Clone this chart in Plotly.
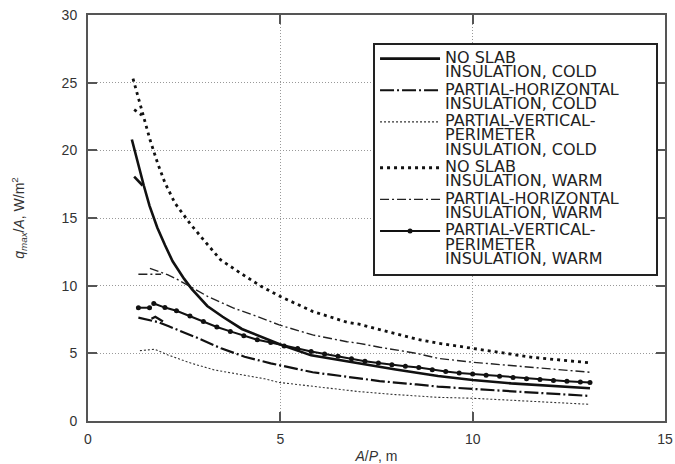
import plotly.graph_objects as go

# ---- data (x = A/P in m, y = q_max/A in W/m2) ----
# None separates a short start-up branch from the main curve
noslab_cold_x = [1.14, 1.3, 1.45, 1.6, 1.8, 2.0, 2.2, 2.5, 2.7, 3.1, 3.5, 4.0, 4.5, 5.0, 5.8, 7.0, 8.0, 9.1, 10.0, 11.0, 12.0, 13.05,
                 None, 1.2, 1.42]
noslab_cold_y = [20.8, 19.0, 17.4, 15.9, 14.3, 13.0, 11.8, 10.5, 9.75, 8.5, 7.7, 6.8, 6.2, 5.65, 4.85, 4.26, 3.8, 3.33, 3.03, 2.78, 2.6, 2.42,
                 None, 18.05, 17.4]

phoriz_cold_x = [1.31, 1.6, 1.83, 2.1, 2.35, 2.87, 3.46, 4.07, 4.75, 5.0, 5.84, 7.05, 7.58, 8.54, 9.1, 10.0, 11.56, 13.05,
                 None, 1.65, 1.75, 1.95]
phoriz_cold_y = [7.64, 7.45, 7.3, 7.0, 6.73, 6.11, 5.37, 4.75, 4.26, 4.1, 3.6, 3.15, 2.95, 2.7, 2.54, 2.37, 2.1, 1.85,
                 None, 7.55, 7.7, 7.35]

pvert_cold_x = [1.35, 1.55, 1.74, 2.08, 2.69, 3.29, 3.98, 4.59, 4.97, 5.84, 7.05, 8.0, 9.1, 10.0, 11.5, 13.05]
pvert_cold_y = [5.2, 5.25, 5.3, 4.88, 4.26, 3.77, 3.4, 3.12, 2.85, 2.55, 2.17, 1.95, 1.75, 1.68, 1.45, 1.23]

noslab_warm_x = [1.17, 1.33, 1.48, 1.61, 1.81, 2.0, 2.26, 2.65, 3.0, 3.45, 3.98, 4.5, 5.0, 5.84, 6.73, 7.05, 7.58, 8.54, 9.1, 10.0, 11.56, 13.05,
                 None, 1.2, 1.4]
noslab_warm_y = [25.3, 23.7, 22.0, 20.8, 19.05, 17.6, 16.1, 14.6, 13.4, 11.9, 10.9, 9.95, 9.2, 8.1, 7.3, 7.15, 6.75, 6.05, 5.75, 5.35, 4.7, 4.3,
                 None, 23.0, 22.6]

phoriz_warm_x = [1.61, 1.85, 2.08, 2.3, 2.52, 2.65, 3.12, 3.8, 4.41, 4.97, 5.84, 6.73, 7.05, 7.58, 8.54, 9.1, 10.0, 11.56, 13.05,
                 None, 1.31, 1.6, 1.9]
phoriz_warm_y = [11.28, 11.05, 10.8, 10.5, 10.17, 9.95, 9.19, 8.33, 7.71, 7.1, 6.36, 5.86, 5.74, 5.45, 5.0, 4.63, 4.34, 3.98, 3.6,
                 None, 10.84, 10.86, 10.84]

pvert_warm_x = [1.31, 1.6, None,
                1.71, 2.0, 2.3, 2.65, 3.0, 3.35, 3.7, 4.05, 4.4, 4.75, 5.1, 5.45, 5.8, 6.15, 6.5, 6.85, 7.2, 7.55, 7.9,
                8.25, 8.6, 8.95, 9.3, 9.65, 10.0, 10.35, 10.7, 11.05, 11.4, 11.75, 12.1, 12.45, 12.8, 13.05]
pvert_warm_y = [8.37, 8.37, None,
                8.68, 8.38, 8.15, 7.75, 7.35, 6.95, 6.62, 6.3, 6.0, 5.8, 5.55, 5.35, 5.14, 4.95, 4.78, 4.6, 4.42, 4.28, 4.15,
                4.05, 3.95, 3.78, 3.65, 3.55, 3.47, 3.38, 3.3, 3.22, 3.13, 3.06, 3.0, 2.94, 2.88, 2.84]

legend_names = [
    ["NO SLAB", "INSULATION, COLD"],
    ["PARTIAL-HORIZONTAL", "INSULATION, COLD"],
    ["PARTIAL-VERTICAL-", "PERIMETER", "INSULATION, COLD"],
    ["NO SLAB", "INSULATION, WARM"],
    ["PARTIAL-HORIZONTAL", "INSULATION, WARM"],
    ["PARTIAL-VERTICAL-", "PERIMETER", "INSULATION, WARM"],
]

x_ticks = [0, 5, 10, 15]
y_ticks = [0, 5, 10, 15, 20, 25, 30]

PAD = "\u2003" * 2  # trailing blank room so the legend box is as wide as the original


def lname(lines):
    return "<br>".join('<span style="font-size:16px">%s</span>' % s for s in lines)


INK = "#111111"
fig = go.Figure()

fig.add_trace(go.Scatter(x=noslab_cold_x, y=noslab_cold_y, mode="lines", name=lname(legend_names[0]),
                         line=dict(color=INK, width=2.6, dash="solid"), connectgaps=False))
fig.add_trace(go.Scatter(x=phoriz_cold_x, y=phoriz_cold_y, mode="lines",
                         name=lname([legend_names[1][0] + PAD, legend_names[1][1]]),
                         line=dict(color=INK, width=2.2, dash="14px,3px,2px,3px"), connectgaps=False))
fig.add_trace(go.Scatter(x=pvert_cold_x, y=pvert_cold_y, mode="lines", name=lname(legend_names[2]),
                         line=dict(color="#333333", width=1.1, dash="2px,2px")))
fig.add_trace(go.Scatter(x=noslab_warm_x, y=noslab_warm_y, mode="lines", name=lname(legend_names[3]),
                         line=dict(color=INK, width=2.8, dash="3px,4px"), connectgaps=False))
fig.add_trace(go.Scatter(x=phoriz_warm_x, y=phoriz_warm_y, mode="lines", name=lname(legend_names[4]),
                         line=dict(color="#222222", width=1.4, dash="9px,3px,2px,3px"), connectgaps=False))
fig.add_trace(go.Scatter(x=pvert_warm_x, y=pvert_warm_y, mode="lines+markers", name=lname(legend_names[5]),
                         line=dict(color=INK, width=2.0), marker=dict(color=INK, size=5, symbol="circle"),
                         connectgaps=False))

axis_common = dict(
    showline=True, linecolor="#555555", linewidth=2, mirror="ticks",
    ticks="inside", ticklen=9, tickwidth=1.5, tickcolor="#555555",
    showgrid=True, gridcolor="#999999", griddash="1px,2px", gridwidth=1,
    zeroline=False, automargin=False,
    tickfont=dict(family="Liberation Sans, Arial, sans-serif", size=14, color="#333333"),
)

fig.update_xaxes(range=[0, 15], tickvals=x_ticks, ticktext=[str(v) for v in x_ticks],
                 title=dict(text="<i>A</i>/<i>P</i>, m", standoff=16,
                            font=dict(family="Liberation Sans, Arial, sans-serif", size=14, color="#333333")),
                 ticklabelstandoff=4, **axis_common)
fig.update_yaxes(range=[0, 30], tickvals=y_ticks, ticktext=[str(v) for v in y_ticks],
                 title=dict(text="<i>q<sub>max</sub></i>/<i>A</i>, W/m<sup>2</sup>", standoff=34,
                            font=dict(family="Liberation Sans, Arial, sans-serif", size=14, color="#333333")),
                 ticklabelstandoff=6, **axis_common)

fig.update_layout(
    width=675, height=464,
    margin=dict(l=88, r=10, t=15, b=43, autoexpand=False),
    paper_bgcolor="white", plot_bgcolor="white",
    font=dict(family="Liberation Sans, Arial, sans-serif", color="#222222"),
    legend=dict(
        x=0.494, y=0.931, xanchor="left", yanchor="top",
        bgcolor="white", bordercolor="#222222", borderwidth=2,
        font=dict(size=11, family="DejaVu Sans, Liberation Sans, sans-serif", color="#222222"),
        valign="top", itemwidth=60, tracegroupgap=0,
    ),
    showlegend=True,
)

fig.write_html("out.html")
